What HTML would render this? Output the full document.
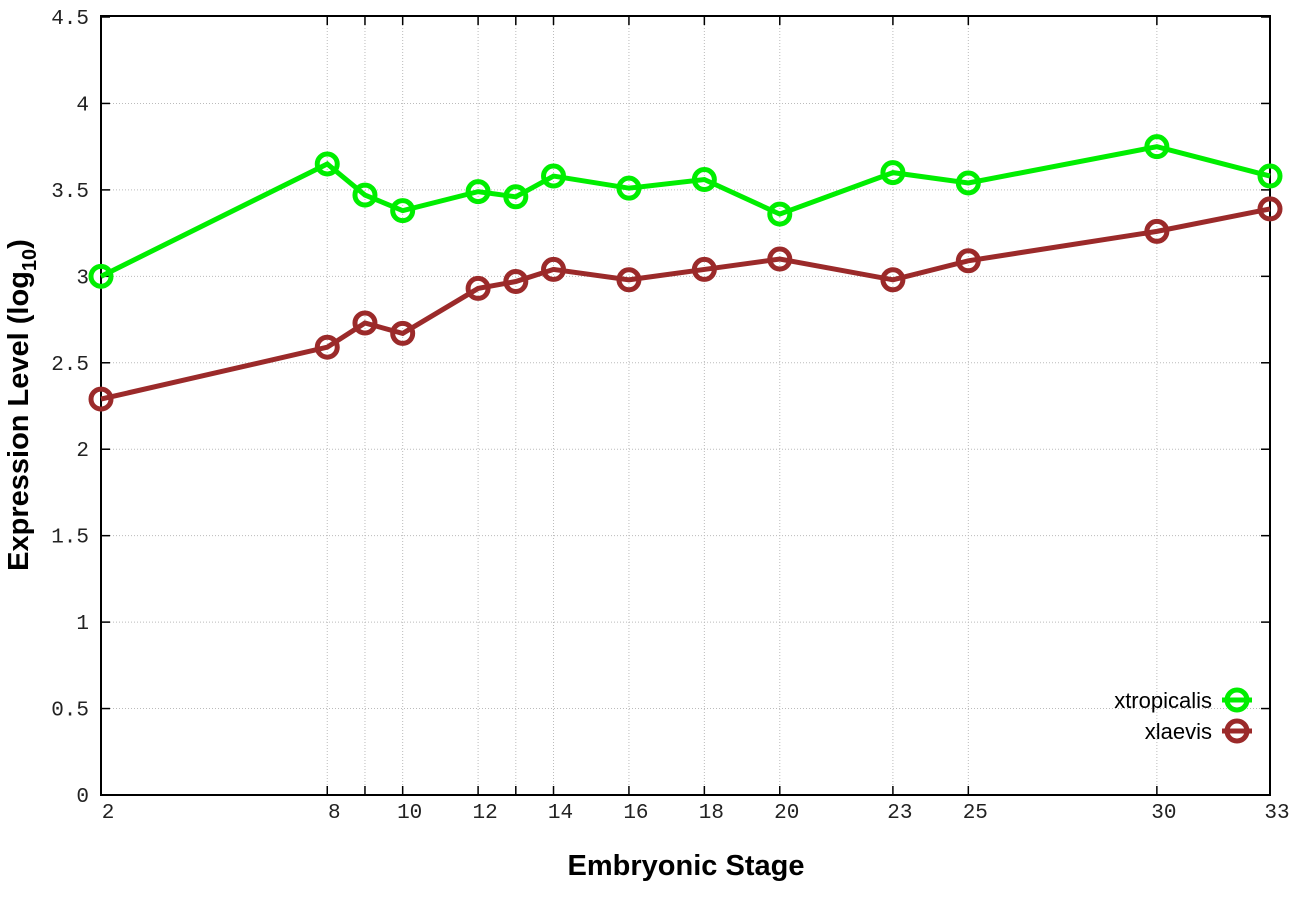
<!DOCTYPE html>
<html><head><style>body{margin:0;background:#fff}svg{display:block}</style></head><body>
<svg width="1296" height="907" xmlns="http://www.w3.org/2000/svg">
<rect width="1296" height="907" fill="#fff"/>
<g id="grid" stroke="#bbb" stroke-width="1" stroke-dasharray="1,2"></g>
<g id="ticks" stroke="#000" stroke-width="1.5"></g>
<rect x="101" y="16" width="1169" height="779" fill="none" stroke="#000" stroke-width="2"/>
<g id="lab" font-family="Liberation Mono, monospace" font-size="21" fill="#222"></g>
<text x="686" y="875" font-family="Liberation Sans, sans-serif" font-weight="bold" font-size="29" text-anchor="middle">Embryonic Stage</text>
<text transform="translate(28,405) rotate(-90)" font-family="Liberation Sans, sans-serif" font-weight="bold" font-size="29" text-anchor="middle">Expression Level (log<tspan font-size="20" dy="8">10</tspan><tspan dy="-8">)</tspan></text>
<g id="series" fill="none" stroke-width="5"></g>
<g font-family="Liberation Sans, sans-serif" font-size="22" text-anchor="end">
<text x="1212" y="708">xtropicalis</text>
<text x="1212" y="739">xlaevis</text>
</g>
<line x1="1222" y1="700" x2="1252" y2="700" stroke="#00ee00" stroke-width="5"/>
<circle cx="1237" cy="700" r="10" fill="none" stroke="#00ee00" stroke-width="5"/>
<line x1="1222" y1="731" x2="1252" y2="731" stroke="#9b2a2a" stroke-width="5"/>
<circle cx="1237" cy="731" r="10" fill="none" stroke="#9b2a2a" stroke-width="5"/>
<script>
const ns="http://www.w3.org/2000/svg";
function el(p,t,a,txt){const e=document.createElementNS(ns,t);for(const k in a)e.setAttribute(k,a[k]);if(txt!==undefined)e.textContent=txt;document.getElementById(p).appendChild(e);}
const X=s=>101+(s-2)*1169/31, Y=v=>795-v*778/4.5;
const st=[2,8,9,10,12,13,14,16,18,20,23,25,30,33];
const lbl=[2,8,10,12,14,16,18,20,23,25,30,33];
st.forEach(s=>{const x=X(s);if(s!=2&&s!=33)el('grid','line',{x1:x,y1:16,x2:x,y2:795});
el('ticks','line',{x1:x,y1:795,x2:x,y2:786});el('ticks','line',{x1:x,y1:16,x2:x,y2:25});});
lbl.forEach(s=>el('lab','text',{x:X(s)+7,y:818,'text-anchor':'middle'},String(s)));
for(let i=0;i<=9;i++){const v=i*0.5,y=Y(v);if(i>0&&i<9)el('grid','line',{x1:101,y1:y,x2:1270,y2:y});
el('ticks','line',{x1:101,y1:y,x2:110,y2:y});el('ticks','line',{x1:1270,y1:y,x2:1261,y2:y});
el('lab','text',{x:89,y:y+7,'text-anchor':'end'},String(v));}
const g=[3.0,3.65,3.47,3.38,3.49,3.46,3.58,3.51,3.56,3.36,3.6,3.54,3.75,3.58];
const r=[2.29,2.59,2.73,2.67,2.93,2.97,3.04,2.98,3.04,3.10,2.98,3.09,3.26,3.39];
[[g,'#00ee00'],[r,'#9b2a2a']].forEach(([d,c])=>{
el('series','polyline',{points:d.map((v,i)=>X(st[i])+','+Y(v)).join(' '),stroke:c});
d.forEach((v,i)=>el('series','circle',{cx:X(st[i]),cy:Y(v),r:10,stroke:c}));});
</script>
</svg>
</body></html>
